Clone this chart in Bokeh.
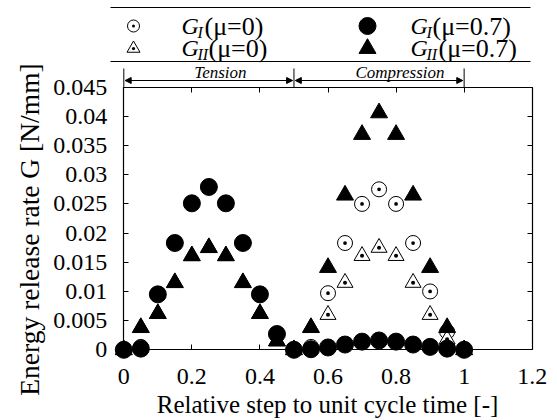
from math import pi
from bokeh.plotting import figure
from bokeh.models import (Range1d, LinearAxis, FixedTicker, CustomJSTickFormatter,
                          ColumnDataSource, Arrow, NormalHead)
from bokeh.core.properties import value
from bokeh.embed import file_html
from bokeh.resources import INLINE

# ---------------- data ----------------
step = [0.00, 0.05, 0.10, 0.15, 0.20, 0.25, 0.30, 0.35, 0.40, 0.45, 0.50,
        0.55, 0.60, 0.65, 0.70, 0.75, 0.80, 0.85, 0.90, 0.95, 1.00]
g1_mu0 = [0, 0.0005, 0.0095, 0.0183, 0.0251, 0.0279, 0.0251, 0.0183, 0.0095, 0.0027, 0,
          0.0005, 0.0097, 0.0183, 0.0250, 0.0275, 0.0250, 0.0183, 0.0100, 0.0031, 0]
g1_mu07 = [0, 0.0002, 0.0095, 0.0183, 0.0251, 0.0279, 0.0251, 0.0183, 0.0095, 0.0027, 0,
           0.0001, 0.0004, 0.0009, 0.0014, 0.0016, 0.0014, 0.0009, 0.0005, 0.0002, 0]
g2_mu0 = [0, 0.0038, 0.0062, 0.0115, 0.0161, 0.0175, 0.0161, 0.0115, 0.0062, 0.0015, 0,
          0.0038, 0.0060, 0.0115, 0.0161, 0.0175, 0.0161, 0.0115, 0.0060, 0.0018, 0]
g2_mu07 = [0, 0.0038, 0.0062, 0.0115, 0.0161, 0.0175, 0.0161, 0.0115, 0.0062, 0.0015, 0,
           0.0038, 0.0141, 0.0265, 0.0369, 0.0406, 0.0369, 0.0265, 0.0141, 0.0038, 0]

x_ticks = [0, 0.2, 0.4, 0.6, 0.8, 1.0, 1.2]
x_tick_labels = ["0", "0.2", "0.4", "0.6", "0.8", "1", "1.2"]
y_ticks = [0, 0.005, 0.01, 0.015, 0.02, 0.025, 0.03, 0.035, 0.04, 0.045]
y_tick_labels = ["0", "0.005", "0.01", "0.015", "0.02", "0.025", "0.03", "0.035", "0.04", "0.045"]

phase_names = ["Tension", "Compression"]
phase_bounds = [0.0, 0.5, 1.0]
phase_label_x = [0.284, 0.8115]

x_title = "Relative step to unit cycle time [-]"
y_title = "Energy release rate G [N/mm]"

# ---------------- layout ----------------
W, H = 557, 420
X0_PX, X12_PX = 123.3, 531.7     # screen x of x=0 and x=1.2
Y0_PX, Y45_PX = 349.3, 86.7      # screen y of y=0 and y=0.045
kx = (X12_PX - X0_PX) / 1.2
ky = (Y0_PX - Y45_PX) / 0.045
FONT = "Liberation Serif"
X_MIN, X_MAX = x_ticks[0], x_ticks[-1]
Y_MIN, Y_MAX = y_ticks[0], y_ticks[-1]

p = figure(width=W, height=H, output_backend="svg", toolbar_location=None,
           x_range=Range1d(-X0_PX / kx, (W - X0_PX) / kx),
           y_range=Range1d(-(H - Y0_PX) / ky, Y0_PX / ky),
           x_axis_type=None, y_axis_type=None, min_border=0,
           background_fill_color="white", border_fill_color="white")
p.outline_line_color = None
p.extra_x_ranges = {"px": Range1d(0, W)}
p.extra_y_ranges = {"px": Range1d(H, 0)}


def make_axis(fixed, bounds, ticks):
    return LinearAxis(fixed_location=fixed, bounds=bounds, ticker=FixedTicker(ticks=ticks),
                      formatter=CustomJSTickFormatter(code="return ''"),
                      major_tick_in=5, major_tick_out=0, major_label_text_font_size="1px",
                      minor_tick_line_color=None, axis_line_color="black",
                      major_tick_line_color="black", axis_line_width=1.2)


p.add_layout(make_axis(Y_MIN, (X_MIN, X_MAX), x_ticks), "below")
p.add_layout(make_axis(Y_MAX, (X_MIN, X_MAX), x_ticks), "above")
p.add_layout(make_axis(X_MIN, (Y_MIN, Y_MAX), y_ticks), "left")
p.add_layout(make_axis(X_MAX, (Y_MIN, Y_MAX), y_ticks), "right")

# tick labels (serif), placed at the tick values through the plot scales
p.text(x=x_ticks, y=[Y_MIN] * len(x_ticks), text=x_tick_labels, y_offset=27,
       text_align="center", text_baseline="middle", text_font=value(FONT),
       text_font_size="24px", text_color="black")
p.text(x=[X_MIN] * len(y_ticks), y=y_ticks, text=y_tick_labels, x_offset=-16.5,
       text_align="right", text_baseline="middle", text_font=value(FONT),
       text_font_size="24px", text_color="black")

# ---------------- series ----------------
src = ColumnDataSource(dict(step=step, g1_mu0=g1_mu0, g1_mu07=g1_mu07,
                            g2_mu0=g2_mu0, g2_mu07=g2_mu07))
p.scatter("step", "g1_mu0", source=src, marker="circle_dot", size=15,
          fill_color="white", line_color="black", line_width=1)
p.scatter("step", "g2_mu0", source=src, marker="triangle_dot", size=16,
          fill_color="white", line_color="black", line_width=1)
p.scatter("step", "g2_mu07", source=src, marker="triangle", size=17,
          fill_color="black", line_color="black")
p.scatter("step", "g1_mu07", source=src, marker="circle", size=17,
          fill_color="black", line_color="black")

# ---------------- phase arrows ----------------
y_arrow = Y_MAX + (Y45_PX - 80) / ky
y_bar = Y_MAX + (Y45_PX - 68) / ky
y_phase_lbl = Y_MAX + (Y45_PX - 71.5) / ky
p.segment(x0=phase_bounds, y0=[Y_MAX] * 3, x1=phase_bounds, y1=[y_bar] * 3,
          line_color="black", line_width=1)
gap = 0.004
for i in range(2):
    p.add_layout(Arrow(x_start=phase_bounds[i] + gap, x_end=phase_bounds[i + 1] - gap,
                       y_start=y_arrow, y_end=y_arrow, line_width=1, line_color="black",
                       start=NormalHead(size=6, fill_color="black", line_color="black", line_width=1),
                       end=NormalHead(size=6, fill_color="black", line_color="black", line_width=1)))
p.text(x=phase_label_x, y=[y_phase_lbl] * 2, text=phase_names, text_align="center",
       text_baseline="middle", text_font=value(FONT), text_font_style="italic",
       text_font_size="17px", text_color="black")

# ---------------- legend (manual) ----------------
p.segment(x0=[110, 110], y0=[7, 61], x1=[530, 530], y1=[7, 61],
          x_range_name="px", y_range_name="px", line_color="black", line_width=1)
p.scatter(x=[133, 133, 367, 367], y=[25.5, 48, 25.5, 48],
          marker=["circle_dot", "triangle_dot", "circle", "triangle"],
          size=[12, 13, 17, 17], fill_color=["white", "white", "black", "black"],
          line_color="black", x_range_name="px", y_range_name="px")
p.text(x=[181, 181, 410, 410], y=[25.5, 47.5, 25.5, 47.5], text=["G", "G", "G", "G"],
       x_range_name="px", y_range_name="px", text_font=value(FONT), text_font_style="italic",
       text_font_size="24px", text_baseline="middle", text_align="left", text_color="black")
p.text(x=[197, 197, 426, 426], y=[32, 54, 32, 54], text=["I", "II", "I", "II"],
       x_range_name="px", y_range_name="px", text_font=value(FONT), text_font_style="italic",
       text_font_size="16px", text_baseline="middle", text_align="left", text_color="black")
p.text(x=[204, 208, 432, 438], y=[25.5, 47.5, 25.5, 47.5],
       text=["(μ=0)", "(μ=0)", "(μ=0.7)", "(μ=0.7)"],
       x_range_name="px", y_range_name="px", text_font=value(FONT),
       text_font_size="26px", text_baseline="middle", text_align="left", text_color="black")

# ---------------- axis titles ----------------
p.text(x=[327], y=[404], text=[x_title], x_range_name="px", y_range_name="px",
       text_align="center", text_baseline="middle", text_font=value(FONT),
       text_font_size="25px", text_color="black")
p.text(x=[29], y=[229], text=[y_title], x_range_name="px", y_range_name="px", angle=pi / 2,
       text_align="center", text_baseline="middle", text_font=value(FONT),
       text_font_size="27.5px", text_color="black")

open("out.html", "w").write(file_html(p, INLINE))
